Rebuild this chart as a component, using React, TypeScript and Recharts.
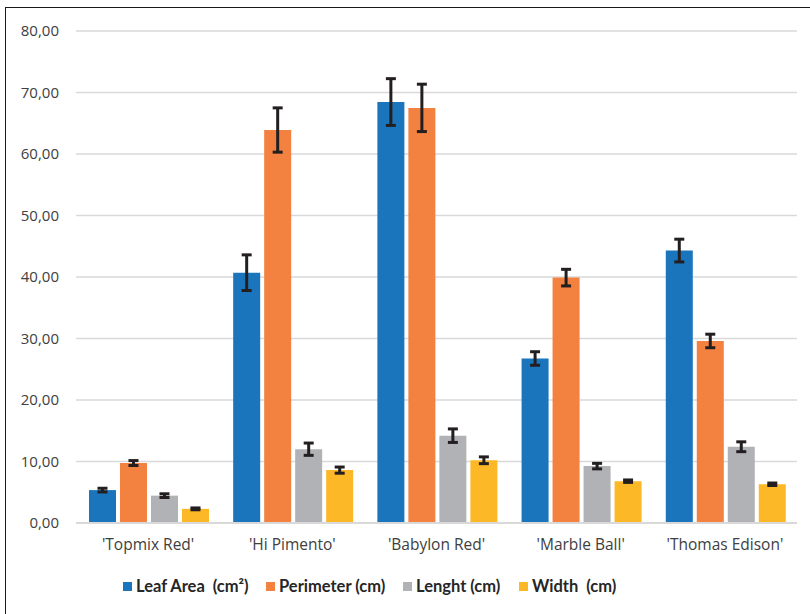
import React from "react";
import { BarChart, Bar, XAxis, YAxis, CartesianGrid, ErrorBar, Legend } from "recharts";

const categories = ["'Topmix Red'", "'Hi Pimento'", "'Babylon Red'", "'Marble Ball'", "'Thomas Edison'"];
const leafArea = [5.35, 40.7, 68.45, 26.75, 44.3];
const leafAreaErr = [0.3, 2.9, 3.8, 1.1, 1.85];
const perimeter = [9.75, 63.9, 67.5, 39.9, 29.6];
const perimeterErr = [0.4, 3.6, 3.85, 1.35, 1.1];
const lenght = [4.45, 12.0, 14.2, 9.25, 12.4];
const lenghtErr = [0.3, 1.0, 1.1, 0.45, 0.8];
const widthVals = [2.3, 8.6, 10.2, 6.8, 6.3];
const widthErr = [0.15, 0.5, 0.55, 0.2, 0.2];
const yTicks = [0, 10, 20, 30, 40, 50, 60, 70, 80];

const seriesNames = ["Leaf Area  (cm\u00B2)", "Perimeter (cm)", "Lenght (cm)", "Width  (cm)"];
const seriesColors = ["#1B75BC", "#F3813F", "#B1B2B5", "#FDB827"];
const legendItemWidths = [143, 137, 116, 95];

const data = categories.map((c, i) => ({
  name: c,
  leaf: leafArea[i],
  leafErr: leafAreaErr[i],
  per: perimeter[i],
  perErr: perimeterErr[i],
  len: lenght[i],
  lenErr: lenghtErr[i],
  wid: widthVals[i],
  widErr: widthErr[i],
}));

const FONT = "'Open Sans', 'DejaVu Sans', sans-serif";
const LEGEND_FONT = "Lato, 'Open Sans', sans-serif";

const LegendContent = () => (
  <div
    style={{
      height: 61,
      paddingTop: 5,
      paddingLeft: 123,
      boxSizing: "border-box",
      display: "flex",
      alignItems: "center",
      justifyContent: "flex-start",
      fontFamily: LEGEND_FONT,
      fontWeight: 700,
      fontSize: 16.5,
      color: "#262626",
      whiteSpace: "pre",
    }}
  >
    {seriesNames.map((n, i) => (
      <div key={n} style={{ display: "flex", alignItems: "center", width: legendItemWidths[i], flex: "none" }}>
        <span style={{ width: 9, height: 9, background: seriesColors[i], display: "inline-block", marginRight: 4, flex: "none" }} />
        <span>{n}</span>
      </div>
    ))}
  </div>
);

const errStroke = "#231F20";

export default function App() {
  return (
    <div style={{ position: "absolute", left: 0, top: 0, width: 810, height: 614, background: "#fff", overflow: "hidden" }}>
      <div
        style={{
          position: "absolute",
          left: 5,
          top: 7,
          width: 820,
          height: 620,
          borderLeft: "1.5px solid #1a1a1a",
          borderTop: "1.5px solid #1a1a1a",
        }}
      />
      <div style={{ position: "absolute", left: 0, top: 0 }}>
        <BarChart
          width={810}
          height={614}
          data={data}
          margin={{ top: 31, right: 13, bottom: 0, left: 0 }}
          barCategoryGap="9%"
          barGap={4}
        >
          <CartesianGrid vertical={false} stroke="#D9D9D9" strokeWidth={1.3} />
          <XAxis
            dataKey="name"
            height={30}
            tickLine={false}
            tickSize={6}
            tickMargin={10}
            axisLine={{ stroke: "#D9D9D9", strokeWidth: 2 }}
            tick={{ fill: "#404040", fontSize: 15.5, fontFamily: FONT }}
            interval={0}
          />
          <YAxis
            width={76}
            domain={[0, 80]}
            ticks={yTicks}
            tickLine={false}
            axisLine={false}
            tickSize={6}
            tickMargin={11}
            tick={{ fill: "#404040", fontSize: 15, fontFamily: FONT }}
            tickFormatter={(v: number) => v.toFixed(2).replace(".", ",")}
          />
          <Legend verticalAlign="bottom" content={<LegendContent />} />
          <Bar dataKey="leaf" name={seriesNames[0]} fill={seriesColors[0]} isAnimationActive={false}>
            <ErrorBar dataKey="leafErr" width={5} strokeWidth={3} stroke={errStroke} />
          </Bar>
          <Bar dataKey="per" name={seriesNames[1]} fill={seriesColors[1]} isAnimationActive={false}>
            <ErrorBar dataKey="perErr" width={5} strokeWidth={3} stroke={errStroke} />
          </Bar>
          <Bar dataKey="len" name={seriesNames[2]} fill={seriesColors[2]} isAnimationActive={false}>
            <ErrorBar dataKey="lenErr" width={5} strokeWidth={3} stroke={errStroke} />
          </Bar>
          <Bar dataKey="wid" name={seriesNames[3]} fill={seriesColors[3]} isAnimationActive={false}>
            <ErrorBar dataKey="widErr" width={5} strokeWidth={3} stroke={errStroke} />
          </Bar>
        </BarChart>
      </div>
    </div>
  );
}
